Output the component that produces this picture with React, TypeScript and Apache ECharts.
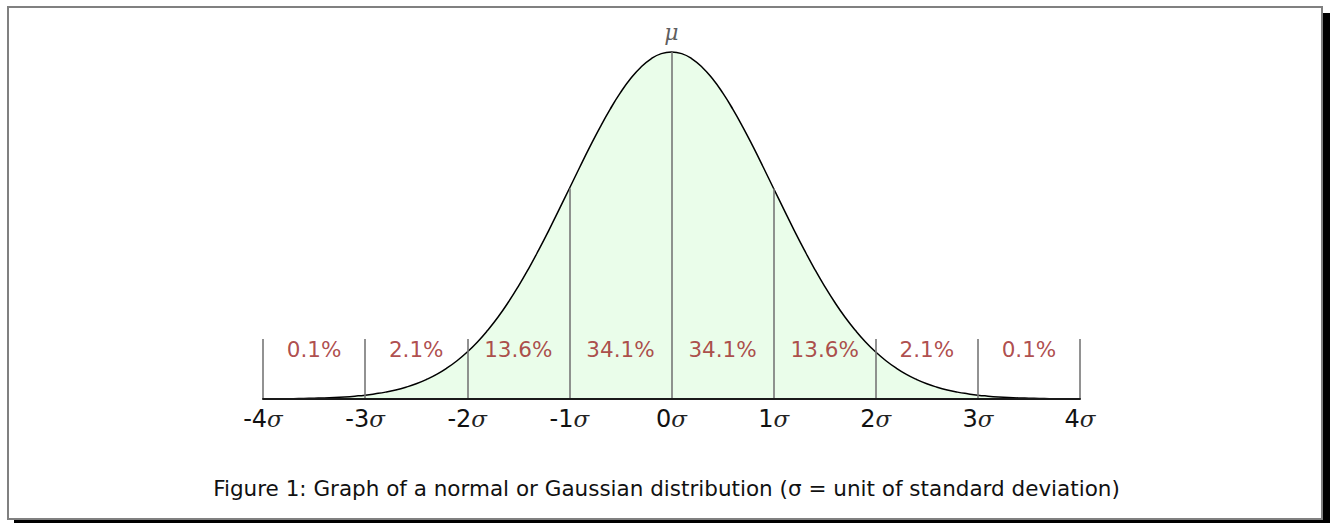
import React, { useEffect, useRef } from "react";
import * as echarts from "echarts";

// Curve samples (x in σ, y = density)
const curveX = [
  -4, -3.9, -3.8, -3.7, -3.6, -3.5, -3.4, -3.3, -3.2, -3.1,
  -3, -2.9, -2.8, -2.7, -2.6, -2.5, -2.4, -2.3, -2.2, -2.1,
  -2, -1.9, -1.8, -1.7, -1.6, -1.5, -1.4, -1.3, -1.2, -1.1,
  -1, -0.9, -0.8, -0.7, -0.6, -0.5, -0.4, -0.3, -0.2, -0.1,
  0, 0.1, 0.2, 0.3, 0.4, 0.5, 0.6, 0.7, 0.8, 0.9,
  1, 1.1, 1.2, 1.3, 1.4, 1.5, 1.6, 1.7, 1.8, 1.9,
  2, 2.1, 2.2, 2.3, 2.4, 2.5, 2.6, 2.7, 2.8, 2.9,
  3, 3.1, 3.2, 3.3, 3.4, 3.5, 3.6, 3.7, 3.8, 3.9, 4,
];
const curveY = [
  0.0001, 0.0002, 0.0003, 0.0004, 0.0006, 0.0009, 0.0012, 0.0017, 0.0024, 0.0033,
  0.0044, 0.006, 0.0079, 0.0104, 0.0136, 0.0175, 0.0224, 0.0283, 0.0355, 0.044,
  0.054, 0.0656, 0.079, 0.094, 0.1109, 0.1295, 0.1497, 0.1714, 0.1942, 0.2179,
  0.242, 0.2661, 0.2897, 0.3123, 0.3332, 0.3521, 0.3683, 0.3814, 0.391, 0.397,
  0.3989, 0.397, 0.391, 0.3814, 0.3683, 0.3521, 0.3332, 0.3123, 0.2897, 0.2661,
  0.242, 0.2179, 0.1942, 0.1714, 0.1497, 0.1295, 0.1109, 0.094, 0.079, 0.0656,
  0.054, 0.044, 0.0355, 0.0283, 0.0224, 0.0175, 0.0136, 0.0104, 0.0079, 0.006,
  0.0044, 0.0033, 0.0024, 0.0017, 0.0012, 0.0009, 0.0006, 0.0004, 0.0003, 0.0002, 0.0001,
];

// Vertical σ lines and their top heights
const sigmaTicks = [-4, -3, -2, -1, 0, 1, 2, 3, 4];
const sigmaLineTops = [0.069, 0.069, 0.069, 0.242, 0.3989, 0.242, 0.069, 0.069, 0.069];

// Percentage labels between the lines
const bandCenters = [-3.5, -2.5, -1.5, -0.5, 0.5, 1.5, 2.5, 3.5];
const bandLabels = ["0.1%", "2.1%", "13.6%", "34.1%", "34.1%", "13.6%", "2.1%", "0.1%"];
const bandLabelLevel = 0.057;

const peakLabel = "μ";
const caption = "Figure 1: Graph of a normal or Gaussian distribution (σ = unit of standard deviation)";

export default function App() {
  const ref = useRef<HTMLDivElement>(null);

  useEffect(() => {
    if (!ref.current) return;
    const chart = echarts.init(ref.current, null, { renderer: "svg" });
    const curve = curveX.map((x, i) => [x, curveY[i]]);
    const lines = sigmaTicks.map((x, i) => ({ coords: [[x, 0], [x, sigmaLineTops[i]]] }));
    const bands = bandCenters.map((x, i) => ({ value: [x, bandLabelLevel], name: bandLabels[i] }));

    chart.setOption({
      animation: false,
      grid: { left: 263, right: 253, top: 51, bottom: 124 },
      xAxis: {
        type: "value",
        min: -4,
        max: 4,
        interval: 1,
        z: 10,
        splitLine: { show: false },
        axisTick: { show: false },
        axisLine: { show: true, lineStyle: { color: "#1a1a1a", width: 2 } },
        axisLabel: {
          margin: 8,
          formatter: (v: number) => `{n|${v}}{s|σ}`,
          rich: {
            n: { fontFamily: "DejaVu Sans", fontSize: 24, color: "#111" },
            s: { fontFamily: "DejaVu Serif", fontStyle: "italic", fontSize: 23, color: "#222" },
          },
        },
      },
      yAxis: { type: "value", min: 0, max: 0.4, show: false },
      series: [
        {
          type: "line",
          data: curve,
          smooth: true,
          showSymbol: false,
          z: 2,
          lineStyle: { color: "#000", width: 1.5 },
          areaStyle: { color: "#eafdea", opacity: 1 },
        },
        {
          type: "lines",
          coordinateSystem: "cartesian2d",
          data: lines,
          z: 3,
          lineStyle: { color: "#777", width: 1.6, opacity: 1 },
        },
        {
          type: "scatter",
          data: bands,
          symbolSize: 0,
          z: 4,
          label: {
            show: true,
            position: "inside",
            formatter: (p: any) => p.name,
            fontFamily: "DejaVu Sans",
            fontSize: 21.5,
            color: "#9a2020",
          },
        },
        {
          type: "scatter",
          data: [{ value: [0, 0.3989], name: peakLabel }],
          symbolSize: 0,
          z: 4,
          label: {
            show: true,
            position: "top",
            distance: 8,
            formatter: (p: any) => p.name,
            fontFamily: "DejaVu Serif",
            fontStyle: "italic",
            fontSize: 22,
            color: "#333",
          },
        },
      ],
      graphic: [
        {
          type: "text",
          left: "center",
          top: 477,
          style: {
            text: caption,
            fontFamily: "DejaVu Sans",
            fontSize: 21.5,
            fill: "#111",
          },
        },
      ],
    });
    return () => chart.dispose();
  }, []);

  return (
    <div style={{ position: "fixed", left: 0, top: 0, width: 1333, height: 523, background: "#fff", overflow: "hidden" }}>
      <div
        style={{
          position: "absolute",
          left: 7,
          top: 6,
          width: 1312,
          height: 510,
          border: "2px solid #808080",
          boxShadow: "7px 7px 0 #000",
          background: "#fff",
        }}
      />
      <div ref={ref} style={{ position: "absolute", left: 0, top: 0, width: 1333, height: 523 }} />
    </div>
  );
}
